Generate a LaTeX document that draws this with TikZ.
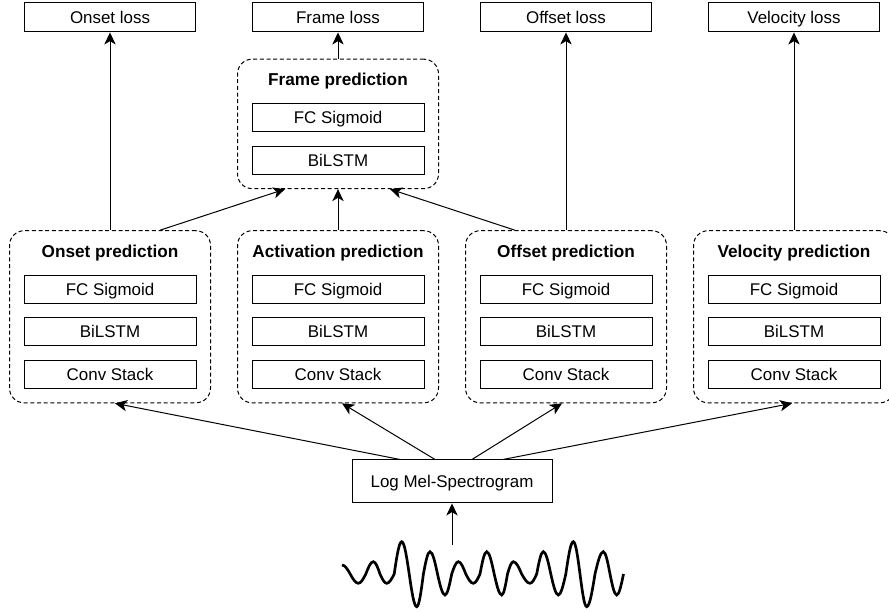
\documentclass[tikz,border=0pt]{standalone}
\usepackage{fontspec}
\setmainfont{Liberation Sans}
\usetikzlibrary{arrows.meta,fit}

\begin{document}
\begin{tikzpicture} [node distance=171pt, >={Stealth[length=9pt,width=8.5pt,inset=2.5pt]},
  block/.style={rectangle, draw, line width=0.75pt, minimum width=129pt, minimum height=21pt, inner sep=0pt, text height=9pt, text depth=0pt, font=\fontsize{12.7}{14}\selectfont},
  loss/.style={block, minimum width=128pt, minimum height=21.75pt},
  heading/.style={inner sep=0pt, font=\fontsize{12.9}{14}\selectfont\bfseries},
  stage/.style={rectangle, draw, dash pattern=on 3pt off 2pt, rounded corners=11pt, line width=0.75pt, inner sep=10.5pt},
  link/.style={->, line width=0.75pt}]
  \useasboundingbox (0,0) rectangle (666.75pt,-459.75pt);
  %% Losses
  \node [loss] (onloss) at (82.5pt,-13.1pt) {Onset loss};
  \node [loss, right of=onloss] (frloss) {Frame loss};
  \node [loss, right of=frloss] (offloss) {Offset loss};
  \node [loss, right of=offloss] (velloss) {Velocity loss};
  %% Frame prediction
  \node [block] (frfc) at (253.5pt,-88.1pt) {FC Sigmoid};
  \node [block, below of=frfc, node distance=32pt] (frlstm) {BiLSTM};
  \node [heading, above of=frfc, node distance=27pt] (frtitle) {Frame prediction};
  \node [stage, fit=(frtitle)(frfc)(frlstm)] (frame) {};
  %% Onset prediction
  \node [block] (onfc) at (82.5pt,-216.75pt) {FC Sigmoid};
  \node [block, below of=onfc, node distance=32pt] (onlstm) {BiLSTM};
  \node [block, below of=onlstm, node distance=32pt] (onconv) {Conv Stack};
  \node [heading, above of=onfc, node distance=27pt] (ontitle) {Onset prediction};
  \node [stage, fit=(ontitle)(onfc)(onconv)] (onset) {};
  %% Activation prediction
  \node [block, right of=onfc] (acfc) {FC Sigmoid};
  \node [block, below of=acfc, node distance=32pt] (aclstm) {BiLSTM};
  \node [block, below of=aclstm, node distance=32pt] (acconv) {Conv Stack};
  \node [heading, above of=acfc, node distance=27pt] (actitle) {Activation prediction};
  \node [stage, fit=(actitle)(acfc)(acconv)] (act) {};
  %% Offset prediction
  \node [block, right of=acfc] (offfc) {FC Sigmoid};
  \node [block, below of=offfc, node distance=32pt] (offlstm) {BiLSTM};
  \node [block, below of=offlstm, node distance=32pt] (offconv) {Conv Stack};
  \node [heading, above of=offfc, node distance=27pt] (offtitle) {Offset prediction};
  \node [stage, fit=(offtitle)(offfc)(offconv)] (off) {};
  %% Velocity prediction
  \node [block, right of=offfc] (velfc) {FC Sigmoid};
  \node [block, below of=velfc, node distance=32pt] (vellstm) {BiLSTM};
  \node [block, below of=vellstm, node distance=32pt] (velconv) {Conv Stack};
  \node [heading, above of=velfc, node distance=27pt] (veltitle) {Velocity prediction};
  \node [stage, fit=(veltitle)(velfc)(velconv)] (vel) {};
  %% Input
  \node [block, minimum width=150pt, minimum height=32.25pt] (mel) at (339pt,-361.1pt) {Log Mel-Spectrogram};
  \coordinate (wavetop) at (339pt,-408.75pt);
  % audio waveform
  \begin{scope}[shift={(255pt,-430.5pt)}, x=0.75pt, y=0.75pt]
    \draw [line width=2pt] (2,9) cos (10.2,0) sin (18.3,-9.3) cos (25.8,0) sin (33.3,12.3)
      cos (40,0) sin (46.7,-9.3) cos (54.2,0) sin (61.7,32.3) cos (69.2,0) sin (76.7,-32.7)
      cos (83.4,0) sin (90,22.3) cos (97.5,0) sin (105,-21) cos (111.7,0) sin (118.3,12.3)
      cos (125.8,0) sin (133.3,-9.3) cos (140,0) sin (146.7,22.3) cos (154.2,0) sin (161.7,-21)
      cos (167.5,0) sin (173.3,12.3) cos (181.7,0) sin (190,-9.3) cos (196.7,0) sin (203.3,22.3)
      cos (210.8,0) sin (218.3,-21) cos (225.8,0) sin (233.3,32.3) cos (240,0) sin (246.7,-32.7)
      cos (255,0) sin (263.3,22.3) cos (270,0) sin (276.7,-21) cos (283.5,0);
  \end{scope}
  % Draw edges
  \draw [link] (wavetop) -- (mel);
  \draw [link] ([xshift=-39pt]mel.north) -- ([xshift=3.75pt]onset.south);
  \draw [link] ([xshift=-12.75pt]mel.north) -- ([xshift=3pt]act.south);
  \draw [link] ([xshift=15pt]mel.north) -- ([xshift=-3pt]off.south);
  \draw [link] ([xshift=38.25pt]mel.north) -- ([xshift=-1.5pt]vel.south);
  \draw [link] (onset) -- (onloss);
  \draw [link] (frame) -- (frloss);
  \draw [link] (off) -- (offloss);
  \draw [link] (vel) -- (velloss);
  \draw [link] (act) -- (frame);
  \draw [link] ([xshift=37.5pt]onset.north) -- ([xshift=-39.75pt]frame.south);
  \draw [link] ([xshift=-38.25pt]off.north) -- ([xshift=39pt]frame.south);
\end{tikzpicture}
\end{document}
